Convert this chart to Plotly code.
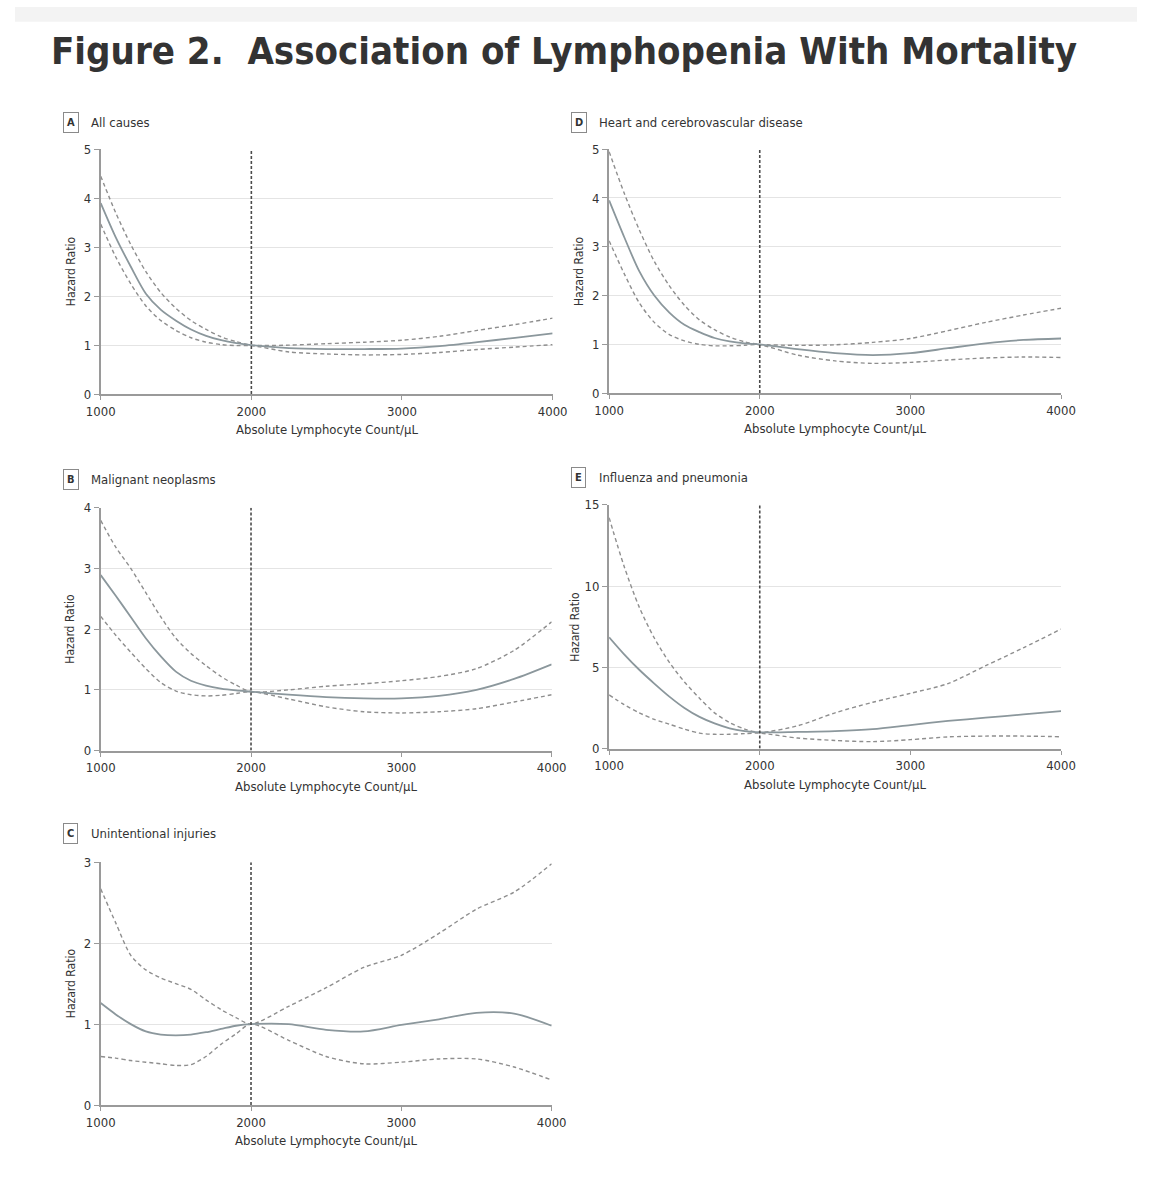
import plotly.graph_objects as go

W, H = 1152, 1200

counts = [1000, 1100, 1200, 1300, 1400, 1500, 1600, 1700, 1800, 1900, 2000,
          2250, 2500, 2750, 3000, 3250, 3500, 3750, 4000]
REF_COUNT = 2000

# A - all causes
all_hr = [3.9, 3.2, 2.6, 2.05, 1.72, 1.5, 1.32, 1.19, 1.1, 1.04, 1.0,
          0.94, 0.92, 0.92, 0.93, 0.98, 1.06, 1.15, 1.24]
all_hi = [4.45, 3.7, 3.05, 2.5, 2.07, 1.75, 1.5, 1.32, 1.17, 1.07, 1.0,
          1.0, 1.03, 1.06, 1.1, 1.18, 1.3, 1.42, 1.55]
all_lo = [3.47, 2.8, 2.25, 1.8, 1.5, 1.3, 1.15, 1.06, 1.01, 0.99, 0.99,
          0.86, 0.82, 0.8, 0.81, 0.85, 0.91, 0.96, 1.01]

# D - heart and cerebrovascular disease
heart_hr = [3.95, 3.2, 2.5, 2.0, 1.65, 1.4, 1.25, 1.13, 1.06, 1.02, 1.0,
            0.9, 0.82, 0.78, 0.82, 0.92, 1.02, 1.09, 1.12]
heart_hi = [4.95, 4.1, 3.35, 2.7, 2.2, 1.8, 1.5, 1.3, 1.15, 1.05, 1.0,
            0.98, 0.99, 1.04, 1.12, 1.28, 1.45, 1.6, 1.74]
heart_lo = [3.12, 2.45, 1.85, 1.45, 1.2, 1.07, 1.0, 0.97, 0.97, 0.98, 0.99,
            0.78, 0.66, 0.61, 0.63, 0.68, 0.72, 0.74, 0.73]

# B - malignant neoplasms
cancer_hr = [2.89, 2.55, 2.2, 1.85, 1.55, 1.3, 1.15, 1.07, 1.02, 0.99, 0.97,
             0.92, 0.88, 0.86, 0.86, 0.9, 1.0, 1.18, 1.42]
cancer_hi = [3.79, 3.35, 3.0, 2.6, 2.2, 1.85, 1.6, 1.4, 1.22, 1.08, 0.97,
             1.0, 1.06, 1.1, 1.15, 1.22, 1.35, 1.65, 2.12]
cancer_lo = [2.21, 1.9, 1.62, 1.35, 1.12, 0.98, 0.92, 0.9, 0.91, 0.94, 0.97,
             0.85, 0.72, 0.64, 0.62, 0.64, 0.69, 0.8, 0.92]

# E - influenza and pneumonia
flu_hr = [6.85, 5.8, 4.85, 4.0, 3.2, 2.5, 1.95, 1.55, 1.25, 1.08, 1.0,
          1.03, 1.08, 1.2, 1.45, 1.7, 1.9, 2.1, 2.3]
flu_hi = [14.2, 11.2, 8.7, 6.8, 5.3, 4.1, 3.1, 2.2, 1.6, 1.2, 1.0,
          1.4, 2.2, 2.85, 3.4, 4.0, 5.1, 6.2, 7.35]
flu_lo = [3.3, 2.7, 2.2, 1.8, 1.5, 1.2, 0.95, 0.88, 0.88, 0.92, 0.95,
          0.65, 0.5, 0.43, 0.55, 0.72, 0.77, 0.77, 0.73]

# C - unintentional injuries
injury_hr = [1.26, 1.12, 1.0, 0.91, 0.87, 0.86, 0.87, 0.9, 0.94, 0.98, 1.0,
             1.0, 0.93, 0.91, 0.99, 1.06, 1.14, 1.13, 0.98]
injury_hi = [2.67, 2.25, 1.85, 1.67, 1.57, 1.5, 1.43, 1.3, 1.18, 1.08, 1.0,
             1.22, 1.45, 1.7, 1.85, 2.12, 2.42, 2.63, 2.98]
injury_lo = [0.6, 0.58, 0.55, 0.53, 0.51, 0.49, 0.5, 0.6, 0.75, 0.88, 1.0,
             0.8, 0.6, 0.51, 0.53, 0.57, 0.57, 0.47, 0.31]

x_ticks = [1000, 2000, 3000, 4000]

panels = [
    dict(letter="A", name="All causes", hr=all_hr, hi=all_hi, lo=all_lo,
         ymax=5, dtick=1, box=(88, 552, 144, 392), head=117),
    dict(letter="D", name="Heart and cerebrovascular disease", hr=heart_hr, hi=heart_hi, lo=heart_lo,
         ymax=5, dtick=1, box=(610, 1074, 144, 391), head=117),
    dict(letter="B", name="Malignant neoplasms", hr=cancer_hr, hi=cancer_hi, lo=cancer_lo,
         ymax=4, dtick=1, box=(88, 551, 507, 753), head=478),
    dict(letter="E", name="Influenza and pneumonia", hr=flu_hr, hi=flu_hi, lo=flu_lo,
         ymax=15, dtick=5, box=(610, 1074, 504, 751), head=476),
    dict(letter="C", name="Unintentional injuries", hr=injury_hr, hi=injury_hi, lo=injury_lo,
         ymax=3, dtick=1, box=(88, 551, 866, 1112), head=837),
]

FONT = "DejaVu Sans Condensed, Liberation Sans Narrow, Arial Narrow, sans-serif"
TEXT = "#333333"
AXIS = "#9a9a9a"
GRID = "#e4e4e4"
SOLID = "#8b979c"
DASHED = "#8e8e8e"


def fx(p):
    return p / W


def fy(p):
    return 1 - p / H


fig = go.Figure()
annotations = []
shapes = []

for i, p in enumerate(panels):
    n = "" if i == 0 else str(i + 1)
    xa, ya = "x" + n, "y" + n
    left, right, top, bottom = p["box"]

    for vals, dash, width, color in [(p["hi"], "4px,3px", 1.4, DASHED),
                                     (p["lo"], "4px,3px", 1.4, DASHED),
                                     (p["hr"], "solid", 1.8, SOLID)]:
        fig.add_trace(go.Scatter(
            x=counts, y=vals, mode="lines", xaxis=xa, yaxis=ya,
            line=dict(color=color, width=width, dash=dash, shape="spline", smoothing=0.8),
            showlegend=False, hoverinfo="skip"
        ))

    fig.layout["xaxis" + n] = dict(
        domain=[fx(left), fx(right)], anchor=ya, range=[1000, 4000],
        tickvals=x_ticks, ticks="outside", ticklen=4, tickcolor=AXIS,
        showline=True, linecolor=AXIS, linewidth=2, showgrid=False, zeroline=False,
        tickfont=dict(size=13, color=TEXT, family=FONT), fixedrange=True
    )
    fig.layout["yaxis" + n] = dict(
        domain=[fy(bottom), fy(top)], anchor=xa, range=[0, p["ymax"]],
        dtick=p["dtick"], ticks="outside", ticklen=5, tickcolor=AXIS,
        showline=True, linecolor=AXIS, linewidth=2,
        showgrid=True, gridcolor=GRID, gridwidth=1, zeroline=False,
        tickfont=dict(size=13, color=TEXT, family=FONT), fixedrange=True
    )

    # reference line at 2000 cells/uL
    shapes.append(dict(
        type="line", xref=xa, yref=ya, x0=REF_COUNT, x1=REF_COUNT, y0=0, y1=p["ymax"],
        line=dict(color="#4a4a4a", width=1.6, dash="3px,2px")
    ))

    # panel header: boxed letter + name
    annotations.append(dict(
        x=fx(left - 31), y=fy(p["head"]), xref="paper", yref="paper",
        text="<b>" + p["letter"] + "</b>", showarrow=False, xanchor="center", yanchor="middle",
        font=dict(size=11, color=TEXT, family=FONT),
        bordercolor="#8a8a8a", borderwidth=1, borderpad=3, bgcolor="white"
    ))
    annotations.append(dict(
        x=fx(left - 12), y=fy(p["head"]), xref="paper", yref="paper",
        text=p["name"], showarrow=False, xanchor="left", yanchor="middle",
        font=dict(size=13, color=TEXT, family=FONT)
    ))
    annotations.append(dict(
        x=fx((left + right) / 2), y=fy(bottom + 36), xref="paper", yref="paper",
        text="Absolute Lymphocyte Count/µL", showarrow=False, xanchor="center", yanchor="middle",
        font=dict(size=13, color=TEXT, family=FONT)
    ))
    annotations.append(dict(
        x=fx(left - (35 if p["ymax"] > 9 else 31)), y=fy((top + bottom) / 2), xref="paper", yref="paper",
        text="Hazard Ratio", showarrow=False, textangle=-90, xanchor="center", yanchor="middle",
        font=dict(size=12, color=TEXT, family=FONT)
    ))

annotations.append(dict(
    x=fx(35), y=fy(45), xref="paper", yref="paper",
    text="<b>Figure 2.  Association of Lymphopenia With Mortality</b>",
    showarrow=False, xanchor="left", yanchor="middle",
    font=dict(size=38, color="#333333", family=FONT)
))

# light strip along the top edge
shapes.append(dict(type="rect", xref="paper", yref="paper", x0=0, x1=1, y0=fy(15), y1=1,
                   fillcolor="#f3f3f3", line=dict(width=0), layer="below"))

fig.update_layout(
    width=W, height=H,
    margin=dict(l=0, r=0, t=0, b=0),
    paper_bgcolor="white", plot_bgcolor="white",
    annotations=annotations, shapes=shapes,
    font=dict(family=FONT, color=TEXT),
    showlegend=False
)

fig.write_html(
    "out.html",
    config={"displayModeBar": False},
    post_script="document.body.style.margin='0';document.body.style.overflow='hidden';"
)
